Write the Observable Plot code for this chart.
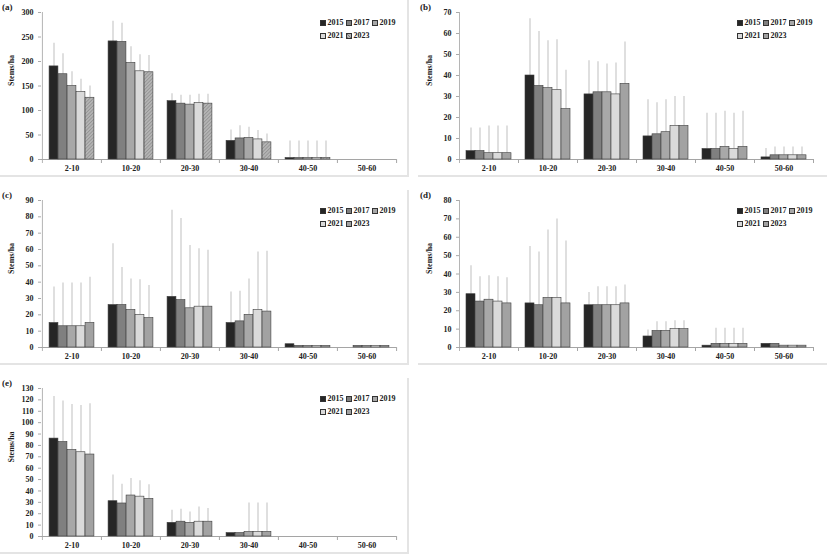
<!DOCTYPE html>
<html>
<head>
<meta charset="utf-8">
<script src="https://cdn.jsdelivr.net/npm/d3@7"></script>
<script src="https://cdn.jsdelivr.net/npm/@observablehq/plot@0.6"></script>
<style>
  html, body { margin: 0; padding: 0; background: #fff; }
  #wrap { position: relative; width: 827px; height: 554px; background: #fff; overflow: hidden;
          font-family: "Liberation Serif", "DejaVu Serif", serif; font-weight: bold; color: #222; }
  .panel { position: absolute; box-sizing: content-box; }
  .panel svg { display: block; }
  .plabel { position: absolute; font-size: 9px; font-weight: bold; line-height: 1; }
  .legend { position: absolute; font-size: 8px; line-height: 1; width: 80px; }
  .legend .item { display: inline-block; width: 26px; white-space: nowrap; height: 13px; }
  .legend .sw { display: inline-block; width: 6px; height: 6px; border: 0.6px solid #333; margin-right: 1.5px; vertical-align: -0.5px; box-sizing: border-box; }
</style>
</head>
<body>
<div id="wrap"></div>
<script>
const categories = ["2-10", "10-20", "20-30", "30-40", "40-50", "50-60"];
const years = ["2015", "2017", "2019", "2021", "2023"];
const yearColors = ["#262626", "#808080", "#a8a8a8", "#dadada", "#a2a2a2"];
const yLabel = "Stems/ha";

// rows = diameter classes, columns = years (2015, 2017, 2019, 2021, 2023)
const meansA = [[190,174,150,138,126],[241,240,197,180,178],[119,114,112,115,114],[38,43,44,41,35],[3,3,3,3,3],[0,0,0,0,0]];
const sdA    = [[47,42,29,26,24],[41,38,33,34,34],[15,17,19,18,19],[22,26,22,18,17],[35,35,35,35,35],[0,0,0,0,0]];
const ticksA = [0,50,100,150,200,250,300];

const meansB = [[4,4,3,3,3],[40,35,34,33,24],[31,32,32,31,36],[11,12,13,16,16],[5,5,6,5,6],[1,2,2,2,2]];
const sdB    = [[11,11,13,13,13],[27,26,22.5,24,18.5],[16,14.5,13.5,15,20],[17.5,15,15.5,14,14],[17,17,17,17,17],[4.2,4,4,4,4]];
const ticksB = [0,10,20,30,40,50,60,70];

const meansC = [[15,13,13,13,15],[26,26,23,20,18],[31,29,24,25,25],[15,16,20,23,22],[2,1,1,1,1],[0,1,1,1,1]];
const sdC    = [[22,26.5,26.5,26.5,28],[37.5,23,19,21.5,20],[53,50,38.5,35.5,34.5],[19,18.5,22,35.5,37],[0,0,0,0,0],[0,0,0,0,0]];
const ticksC = [0,10,20,30,40,50,60,70,80,90];

const meansD = [[29,25,26,25,24],[24,23,27,27,24],[23,23,23,23,24],[6,9,9,10,10],[1,2,2,2,2],[2,2,1,1,1]];
const sdD    = [[15.5,13.5,13,13.5,14],[31,29,37,43,34],[7,10,10,10,10],[3.5,5,5,4.5,4.5],[0,8.5,8.5,8.5,8.5],[0,0,0,0,0]];
const ticksD = [0,10,20,30,40,50,60,70,80];

const meansE = [[86,83,76,74,72],[31,29,36,35,33],[12,13,12,13,13],[3,3,4,4,4],[0,0,0,0,0],[0,0,0,0,0]];
const sdE    = [[37,36,40,41,44.5],[23,17,15,14,12.5],[11,11,9.5,13,11.5],[0,0,25.5,25.5,25.5],[0,0,0,0,0],[0,0,0,0,0]];
const ticksE = [0,10,20,30,40,50,60,70,80,90,100,110,120,130];

const panels = [
  {label: "(a)", means: meansA, sd: sdA, ticks: ticksA, left: 0,   top: 0,   width: 407, height: 175, mt: 12, mb: 16, ml: 41, mr: 11, hatch: true,  borderRight: true},
  {label: "(b)", means: meansB, sd: sdB, ticks: ticksB, left: 418, top: 0,   width: 409, height: 175, mt: 12, mb: 16, ml: 41, mr: 14, hatch: false, borderRight: false},
  {label: "(c)", means: meansC, sd: sdC, ticks: ticksC, left: 0,   top: 190, width: 407, height: 173, mt: 10, mb: 16, ml: 41, mr: 11, hatch: false, borderRight: true},
  {label: "(d)", means: meansD, sd: sdD, ticks: ticksD, left: 418, top: 190, width: 409, height: 173, mt: 10, mb: 16, ml: 41, mr: 14, hatch: false, borderRight: false},
  {label: "(e)", means: meansE, sd: sdE, ticks: ticksE, left: 0,   top: 378, width: 407, height: 174, mt: 10, mb: 16, ml: 41, mr: 11, hatch: false, borderRight: true}
];

const wrap = document.getElementById("wrap");

panels.forEach((p, pi) => {
  const plotW = p.width - p.ml - p.mr;
  const plotH = p.height - p.mt - p.mb;
  const step = plotW / categories.length;
  const barW = 9;
  const inset = (step - barW) / 2;
  const hatchId = "hatch" + pi;

  const rows = [];
  categories.forEach((c, ci) => years.forEach((y, yi) =>
    rows.push({cat: c, year: y, yi, value: p.means[ci][yi], sd: p.sd[ci][yi]})));

  const marks = [];
  marks.push(Plot.ruleX([categories[0]], {x: d => d, dx: -step / 2, insetBottom: -4, stroke: "#b5b5b5", strokeWidth: 1}));
  marks.push(Plot.ruleX(categories.slice(1), {x: d => d, dx: -step / 2, insetTop: plotH, insetBottom: -4, stroke: "#a5a5a5", strokeWidth: 1}));
  marks.push(Plot.ruleX([categories[categories.length - 1]], {x: d => d, dx: step / 2, insetTop: plotH, insetBottom: -4, stroke: "#a5a5a5", strokeWidth: 1}));
  marks.push(Plot.ruleY([0], {stroke: "#a5a5a5", strokeWidth: 1}));

  years.forEach((yr, yi) => {
    const sub = rows.filter(d => d.yi === yi && d.sd > 0);
    marks.push(Plot.ruleX(sub, {x: "cat", y1: "value", y2: d => d.value + d.sd, dx: (yi - 2) * barW, stroke: "#cacaca", strokeWidth: 1.2}));
  });
  years.forEach((yr, yi) => {
    const sub = rows.filter(d => d.yi === yi && d.value > 0);
    const fill = (p.hatch && yi === 4) ? `url(#${hatchId})` : yearColors[yi];
    marks.push(Plot.barY(sub, {x: "cat", y: "value", dx: (yi - 2) * barW, insetLeft: inset, insetRight: inset,
      fill, stroke: "#3c3c3c", strokeWidth: 0.6}));
  });

  marks.push(Plot.axisY({ticks: p.ticks, tickSize: 3, tickPadding: 5, label: null, stroke: "#aaa", fill: "#222", fontWeight: "bold"}));
  marks.push(Plot.axisX({tickSize: 0, tickPadding: 6, label: null, fill: "#222", fontWeight: "bold"}));
  marks.push(Plot.text([yLabel], {frameAnchor: "left", rotate: -90, dx: -30, fontWeight: "bold", fontSize: 8, fill: "#222"}));

  const chart = Plot.plot({
    width: p.width,
    height: p.height,
    marginTop: p.mt,
    marginBottom: p.mb,
    marginLeft: p.ml,
    marginRight: p.mr,
    x: {domain: categories, padding: 0, type: "band"},
    y: {domain: [0, p.ticks[p.ticks.length - 1]]},
    style: {fontFamily: "'Liberation Serif', 'DejaVu Serif', serif", fontSize: "8px", fontWeight: "bold", background: "#fff", color: "#222"},
    marks
  });

  if (p.hatch) {
    const pat = d3.select(chart).insert("defs", ":first-child")
      .append("pattern").attr("id", hatchId).attr("patternUnits", "userSpaceOnUse")
      .attr("width", 2.5).attr("height", 2.5).attr("patternTransform", "rotate(45)");
    pat.append("rect").attr("width", 2.5).attr("height", 2.5).attr("fill", "#b4b4b4");
    pat.append("line").attr("x1", 0).attr("y1", 0).attr("x2", 0).attr("y2", 2.5)
      .attr("stroke", "#7c7c7c").attr("stroke-width", 1);
  }

  const div = document.createElement("div");
  div.className = "panel";
  div.style.left = p.left + "px";
  div.style.top = p.top + "px";
  div.style.width = p.width + "px";
  div.style.height = p.height + "px";
  div.style.borderBottom = "2px solid #e4e4e4";
  if (p.borderRight) div.style.borderRight = "2px solid #e4e4e4";
  div.appendChild(chart);

  const lab = document.createElement("div");
  lab.className = "plabel";
  lab.textContent = p.label;
  lab.style.left = "2px";
  lab.style.top = (p.mt - 9) + "px";
  div.appendChild(lab);

  const leg = document.createElement("div");
  leg.className = "legend";
  leg.style.left = (p.ml + plotW - 76) + "px";
  leg.style.top = (p.mt + 7) + "px";
  years.forEach((yr, yi) => {
    const it = document.createElement("span");
    it.className = "item";
    const sw = document.createElement("span");
    sw.className = "sw";
    if (p.hatch && yi === 4) {
      sw.style.background = "repeating-linear-gradient(45deg, #7c7c7c 0 1px, #b4b4b4 1px 2.5px)";
    } else {
      sw.style.background = yearColors[yi];
    }
    it.appendChild(sw);
    it.appendChild(document.createTextNode(yr));
    leg.appendChild(it);
    if (yi === 2) leg.appendChild(document.createElement("br"));
  });
  div.appendChild(leg);

  wrap.appendChild(div);
});
</script>
</body>
</html>
